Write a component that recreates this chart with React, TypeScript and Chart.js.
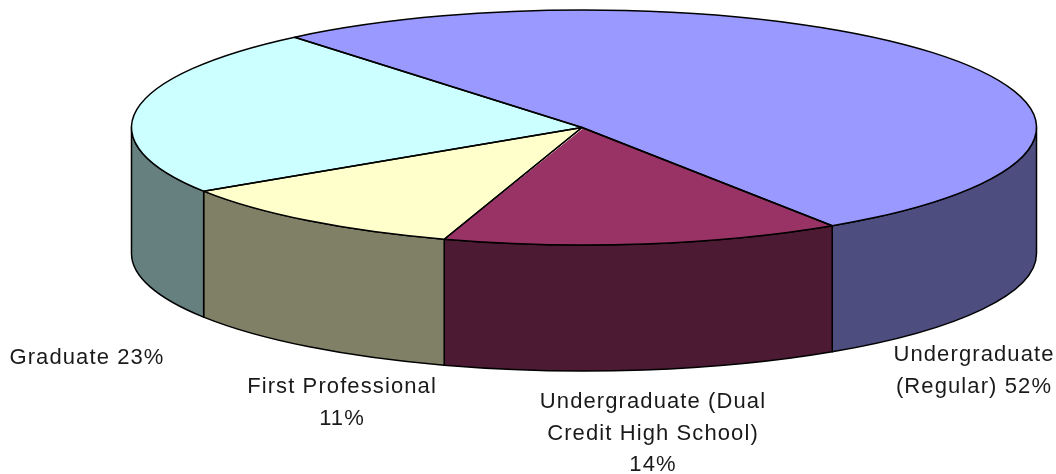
import React, { useEffect, useRef } from "react";
import { Chart, registerables } from "chart.js";

Chart.register(...registerables);

const categories = [
  "Undergraduate (Regular)",
  "Undergraduate (Dual Credit High School)",
  "First Professional",
  "Graduate",
];
const shares = [51.8, 14.24, 10.89, 23.07];
const topColors = ["#9999FF", "#993366", "#FFFFCC", "#CCFFFF"];
const sideColors = ["#4D4D80", "#4D1A33", "#808066", "#668080"];
const labelLines = [
  ["Undergraduate", "(Regular) 52%"],
  ["Undergraduate (Dual", "Credit High School)", "14%"],
  ["First Professional", "11%"],
  ["Graduate 23%"],
];

const WIDTH = 1056;
const HEIGHT = 474;
const view = { cx: 584, cy: 127.5, rx: 452.5, ry: 117.5, depth: 126 };
const labelAnchors = [
  { x: 974, y: 355 },
  { x: 653, y: 402 },
  { x: 342, y: 387 },
  { x: 87, y: 358 },
];
const lineGap = 31.5;

const pie3d = {
  id: "pie3d",
  beforeDatasetsDraw(chart: any) {
    const { ctx } = chart;
    const arcs = chart.getDatasetMeta(0).data;
    const { cx, cy, rx, ry, depth } = view;
    ctx.save();
    ctx.lineWidth = 1.5;
    ctx.strokeStyle = "#000";
    ctx.lineJoin = "round";
    arcs.forEach((arc: any, i: number) => {
      const two = Math.PI * 2;
      let s = arc.startAngle;
      let e = arc.endAngle;
      while (e < 0) { s += two; e += two; }
      while (s >= Math.PI && s - two + (e - s) > 0) { s -= two; e -= two; }
      const a = Math.max(s, 0);
      const b = Math.min(e, Math.PI);
      if (b <= a) return;
      ctx.beginPath();
      ctx.ellipse(cx, cy, rx, ry, 0, a, b);
      ctx.ellipse(cx, cy + depth, rx, ry, 0, b, a, true);
      ctx.closePath();
      ctx.fillStyle = sideColors[i];
      ctx.fill();
      ctx.stroke();
    });
    ctx.restore();
    const ref = arcs[0];
    ctx.save();
    ctx.translate(cx, cy);
    ctx.scale(rx / ref.outerRadius, ry / ref.outerRadius);
    ctx.translate(-ref.x, -ref.y);
  },
  afterDatasetsDraw(chart: any) {
    const { ctx } = chart;
    ctx.restore();
    const arcs = chart.getDatasetMeta(0).data;
    const { cx, cy, rx, ry } = view;
    ctx.save();
    ctx.lineWidth = 1.5;
    ctx.strokeStyle = "#000";
    ctx.lineJoin = "round";
    arcs.forEach((arc: any) => {
      ctx.beginPath();
      ctx.moveTo(cx - 2, cy);
      ctx.ellipse(cx, cy, rx, ry, 0, arc.startAngle, arc.endAngle);
      ctx.closePath();
      ctx.stroke();
    });
    ctx.fillStyle = "#1a1a1a";
    ctx.font = '22px "Liberation Sans", Arial, sans-serif';
    ctx.letterSpacing = "1.1px";
    ctx.textAlign = "center";
    ctx.textBaseline = "middle";
    labelLines.forEach((lines, i) => {
      lines.forEach((line, j) => {
        ctx.fillText(line, labelAnchors[i].x, labelAnchors[i].y + j * lineGap);
      });
    });
    ctx.restore();
  },
};

export default function App() {
  const ref = useRef<HTMLCanvasElement | null>(null);
  useEffect(() => {
    const chart = new Chart(ref.current as HTMLCanvasElement, {
      type: "pie",
      data: {
        labels: categories,
        datasets: [
          { data: shares, backgroundColor: topColors, borderWidth: 0, hoverOffset: 0 },
        ],
      },
      options: {
        animation: false,
        responsive: false,
        rotation: -39.75,
        layout: { padding: 0 },
        plugins: { legend: { display: false }, tooltip: { enabled: false }, title: { display: false } },
      },
      plugins: [pie3d],
    } as any);
    return () => chart.destroy();
  }, []);
  return (
    <div style={{ position: "fixed", left: 0, top: 0, width: WIDTH, height: HEIGHT, background: "#fff" }}>
      <canvas ref={ref} width={WIDTH} height={HEIGHT} style={{ display: "block", width: WIDTH, height: HEIGHT }} />
    </div>
  );
}
